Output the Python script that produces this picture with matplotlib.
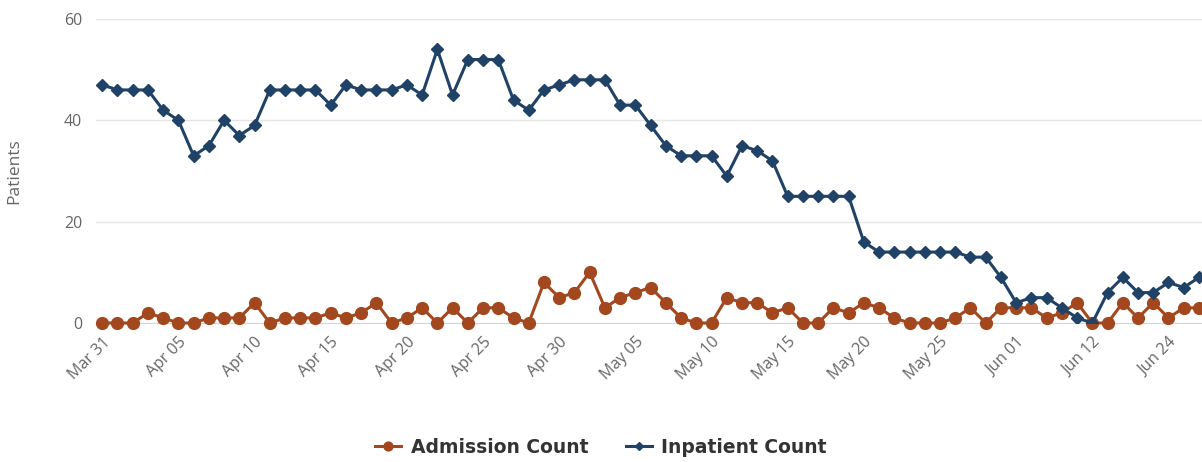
import matplotlib.pyplot as plt
import numpy as np

# daily values (73 points)
admission_count = [0, 0, 0, 2, 1, 0, 0, 1, 1, 1,
                   4, 0, 1, 1, 1, 2, 1, 2, 4, 0,
                   1, 3, 0, 3, 0, 3, 3, 1, 0, 8,
                   5, 6, 10, 3, 5, 6, 7, 4, 1, 0,
                   0, 5, 4, 4, 2, 3, 0, 0, 3, 2,
                   4, 3, 1, 0, 0, 0, 1, 3, 0, 3,
                   3, 3, 1, 2, 4, 0, 0, 4, 1, 4,
                   1, 3, 3]
inpatient_count = [47, 46, 46, 46, 42, 40, 33, 35, 40, 37,
                   39, 46, 46, 46, 46, 43, 47, 46, 46, 46,
                   47, 45, 54, 45, 52, 52, 52, 44, 42, 46,
                   47, 48, 48, 48, 43, 43, 39, 35, 33, 33,
                   33, 29, 35, 34, 32, 25, 25, 25, 25, 25,
                   16, 14, 14, 14, 14, 14, 14, 13, 13, 9,
                   4, 5, 5, 3, 1, 0, 6, 9, 6, 6,
                   8, 7, 9]
# one label every 5th point
tick_labels = ['Mar 31', 'Apr 05', 'Apr 10', 'Apr 15', 'Apr 20', 'Apr 25',
               'Apr 30', 'May 05', 'May 10', 'May 15', 'May 20', 'May 25',
               'Jun 01', 'Jun 12', 'Jun 24']

plt.rcParams['font.family'] = ['Open Sans', 'DejaVu Sans']

adm_color = '#A3481E'
inp_color = '#1F4266'

fig = plt.figure(figsize=(12.02, 4.62), dpi=100)
ax = fig.add_axes([96 / 1202, (462 - 323) / 462, 1 - 96 / 1202, (323 - 19) / 462])

x = np.arange(len(inpatient_count))
ax.plot(x, admission_count, color=adm_color, lw=2.2, marker='o', ms=8.5,
        label='Admission Count', clip_on=False, zorder=3)
ax.plot(x, inpatient_count, color=inp_color, lw=2.2, marker='D', ms=6,
        label='Inpatient Count', clip_on=True, zorder=4)

ax.set_xlim(-0.41, 72.2)
ax.set_ylim(0, 60)
ax.set_yticks([0, 20, 40, 60])
ax.set_xticks(x[::5])
ax.set_xticklabels(tick_labels, rotation=45, ha='right', rotation_mode='anchor')

ax.grid(axis='y', color='#e6e6e6', lw=1)
ax.set_axisbelow(True)
for s in ['top', 'right', 'left']:
    ax.spines[s].set_visible(False)
ax.spines['bottom'].set_color('#ccd6eb')
ax.tick_params(axis='both', length=0, colors='#666666', labelsize=11.5)
ax.tick_params(axis='x', pad=8)
ax.tick_params(axis='y', pad=10)
ax.set_ylabel('Patients', color='#666666', fontsize=12.5, labelpad=30)

leg = fig.legend(loc='lower center', bbox_to_anchor=(0.5, -0.025), ncol=2,
                 frameon=False,
                 prop={'family': 'DejaVu Sans', 'weight': 'bold', 'size': 13.5},
                 handlelength=1.4, markerscale=0.75, columnspacing=2.0,
                 handletextpad=0.5)
for t in leg.get_texts():
    t.set_color('#333333')

fig.savefig('out.png', dpi=100)
